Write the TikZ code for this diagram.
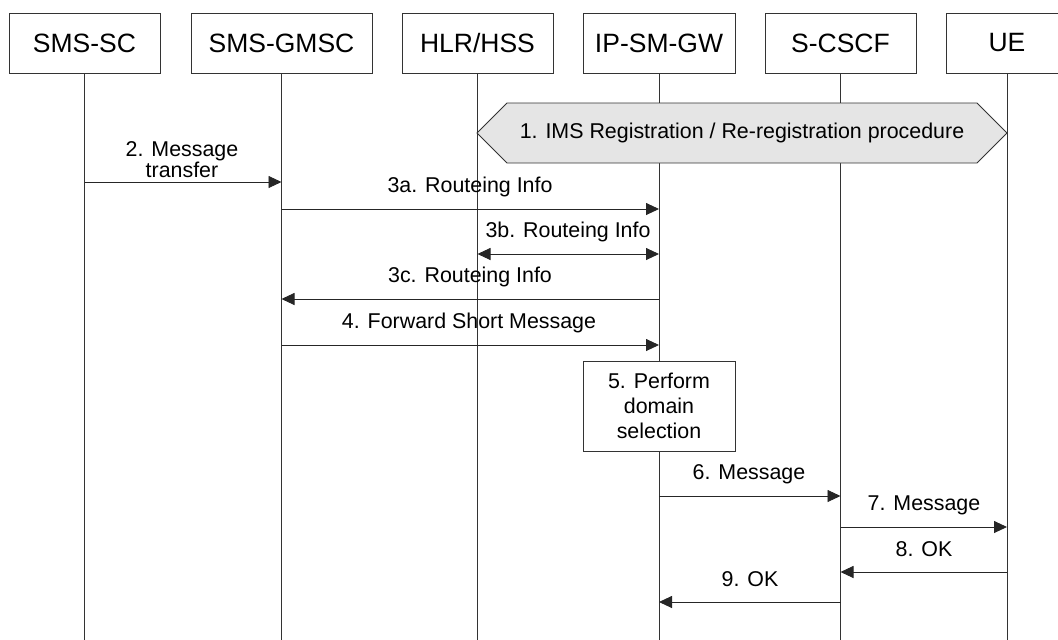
\documentclass[tikz,border=0pt]{standalone}
\usepackage{fontspec}
\setmainfont{Liberation Sans}
\usetikzlibrary{arrows.meta,shapes.symbols}
\begin{document}
\begin{tikzpicture}[x=1pt,y=-1pt,
  ent/.style={draw=black!80, line width=0.9pt, fill=white, minimum height=60pt, inner sep=0pt, font=\fontsize{26.5}{30}\selectfont},
  life/.style={draw=black!80, line width=0.9pt},
  msg/.style={draw=black!85, line width=0.9pt, -{Triangle[length=13pt,width=12pt]}},
  dmsg/.style={draw=black!85, line width=0.9pt, {Triangle[length=13pt,width=12pt]}-{Triangle[length=13pt,width=12pt]}},
  lblfont/.style={font=\fontsize{21.4}{24}\selectfont},
  lbl/.style={lblfont, inner sep=0pt},
]
\useasboundingbox (0,0) rectangle (1058,640);
\clip (0,0) rectangle (1058,640);
\coordinate (bot) at (0,641);

% entities
\node[ent, minimum width=151pt] (sc)   at (84.5,43)  {SMS-SC};
\node[ent, minimum width=181pt] (gmsc) at (281.5,43) {SMS-GMSC};
\node[ent, minimum width=151pt] (hlr)  at (477.5,43) {HLR/HSS};
\node[ent, minimum width=152pt] (ipsm) at (659,43)   {IP-SM-GW};
\node[ent, minimum width=151pt] (cscf) at (840.5,43) {S-CSCF};
\node[ent, minimum width=122pt] (ue)   at (1007,43)  {UE};

% lifelines
\foreach \n in {sc,gmsc,hlr,ipsm,cscf,ue}
  \draw[life] (\n.south) -- (\n.south |- bot);

% 1. registration
\node[signal, signal to=west and east, signal pointer angle=90,
      draw=black!80, line width=0.9pt, fill=gray!20,
      minimum width=530pt, minimum height=60pt, lblfont] (reg) at (742,133)
      {1. IMS Registration / Re-registration procedure};

% 2
\node[lbl, align=center, font=\fontsize{21.4}{19.5}\selectfont] (l2) at (182,160) {2. Message\\transfer};
\draw[msg] (sc |- 0,182) -- (gmsc |- 0,182);

% 3a
\node[lbl] (l3a) at (470,187) {3a. Routeing Info};
\draw[msg] (gmsc |- 0,209) -- (ipsm |- 0,209);

% 3b
\node[lbl] (l3b) at (568,232) {3b. Routeing Info};
\draw[dmsg] (hlr |- 0,254) -- (ipsm |- 0,254);

% 3c
\node[lbl] (l3c) at (470,277) {3c. Routeing Info};
\draw[msg] (ipsm |- 0,299) -- (gmsc |- 0,299);

% 4
\node[lbl] (l4) at (469,323) {4. Forward Short Message};
\draw[msg] (gmsc |- 0,345) -- (ipsm |- 0,345);

% 5
\node[draw=black!80, line width=0.9pt, fill=white, minimum width=152pt, minimum height=90pt,
      align=center, inner sep=0pt, font=\fontsize{21.4}{25}\selectfont] (dom) at (659,406)
      {5. Perform\\domain\\selection};

% 6
\node[lbl] (l6) at (749,474) {6. Message};
\draw[msg] (ipsm |- 0,496) -- (cscf |- 0,496);

% 7
\node[lbl] (l7) at (924,505) {7. Message};
\draw[msg] (cscf |- 0,527) -- (ue |- 0,527);

% 8
\node[lbl] (l8) at (924,549) {8. OK};
\draw[msg] (ue |- 0,572) -- (cscf |- 0,572);

% 9
\node[lbl] (l9) at (750,579) {9. OK};
\draw[msg] (cscf |- 0,602) -- (ipsm |- 0,602);
\end{tikzpicture}
\end{document}
